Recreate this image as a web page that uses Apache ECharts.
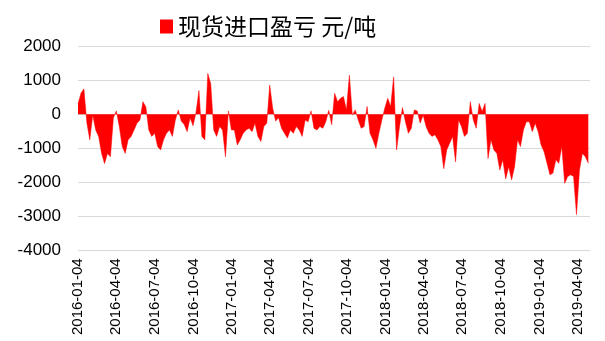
<!DOCTYPE html>
<html>
<head>
<meta charset="utf-8">
<script src="https://cdn.jsdelivr.net/npm/echarts@6/dist/echarts.min.js"></script>
<style>html,body{margin:0;padding:0;background:#fff}#c{width:605px;height:341px}</style>
</head>
<body>
<div id="c"></div>
<script>
var seriesName = '现货进口盈亏 元/吨';
var axisStart = '2016-01-04';
var axisEnd = '2019-05-03';
var quarterLabels = ['2016-01-04','2016-04-04','2016-07-04','2016-10-04','2017-01-04','2017-04-04','2017-07-04','2017-10-04','2018-01-04','2018-04-04','2018-07-04','2018-10-04','2019-01-04','2019-04-04'];
var yTicks = [-4000, -3000, -2000, -1000, 0, 1000, 2000];

var dates = [
'2016-01-04','2016-01-11','2016-01-18','2016-01-25','2016-02-01','2016-02-08','2016-02-15','2016-02-22','2016-02-29','2016-03-07','2016-03-14','2016-03-21','2016-03-28',
'2016-04-04','2016-04-11','2016-04-18','2016-04-25','2016-05-02','2016-05-09','2016-05-16','2016-05-23','2016-05-30','2016-06-06','2016-06-13','2016-06-20','2016-06-27',
'2016-07-04','2016-07-11','2016-07-18','2016-07-25','2016-08-01','2016-08-08','2016-08-15','2016-08-22','2016-08-29','2016-09-05','2016-09-12','2016-09-19','2016-09-26',
'2016-10-03','2016-10-10','2016-10-17','2016-10-24','2016-10-31','2016-11-07','2016-11-14','2016-11-21','2016-11-28','2016-12-05','2016-12-12','2016-12-19','2016-12-26',
'2017-01-02','2017-01-09','2017-01-16','2017-01-23','2017-01-30','2017-02-06','2017-02-13','2017-02-20','2017-02-27','2017-03-06','2017-03-13','2017-03-20','2017-03-27',
'2017-04-03','2017-04-10','2017-04-17','2017-04-24','2017-05-01','2017-05-08','2017-05-15','2017-05-22','2017-05-29','2017-06-05','2017-06-12','2017-06-19','2017-06-26',
'2017-07-03','2017-07-10','2017-07-17','2017-07-24','2017-07-31','2017-08-07','2017-08-14','2017-08-21','2017-08-28','2017-09-04','2017-09-11','2017-09-18','2017-09-25',
'2017-10-02','2017-10-09','2017-10-16','2017-10-23','2017-10-30','2017-11-06','2017-11-13','2017-11-20','2017-11-27','2017-12-04','2017-12-11','2017-12-18','2017-12-25',
'2018-01-01','2018-01-08','2018-01-15','2018-01-22','2018-01-29','2018-02-05','2018-02-12','2018-02-19','2018-02-26','2018-03-05','2018-03-12','2018-03-19','2018-03-26',
'2018-04-02','2018-04-09','2018-04-16','2018-04-23','2018-04-30','2018-05-07','2018-05-14','2018-05-21','2018-05-28','2018-06-04','2018-06-11','2018-06-18','2018-06-25',
'2018-07-02','2018-07-09','2018-07-16','2018-07-23','2018-07-30','2018-08-06','2018-08-13','2018-08-20','2018-08-27','2018-09-03','2018-09-10','2018-09-17','2018-09-24',
'2018-10-01','2018-10-08','2018-10-15','2018-10-22','2018-10-29','2018-11-05','2018-11-12','2018-11-19','2018-11-26','2018-12-03','2018-12-10','2018-12-17','2018-12-24','2018-12-31',
'2019-01-07','2019-01-14','2019-01-21','2019-01-28','2019-02-04','2019-02-11','2019-02-18','2019-02-25','2019-03-04','2019-03-11','2019-03-18','2019-03-25',
'2019-04-01','2019-04-08','2019-04-15','2019-04-22','2019-04-29'
];

var values = [
300,620,750,-250,-750,-20,-460,-650,-1150,-1450,-1150,-1250,-100,
100,-360,-950,-1150,-750,-650,-460,-260,-170,370,220,-460,-650,
-560,-950,-1050,-750,-560,-460,-650,-170,130,-200,-300,-510,-100,
-340,50,700,-650,-750,1200,900,-460,-650,-360,-460,-1250,100,
-460,-460,-900,-750,-560,-460,-410,-510,-260,-650,-800,-360,-260,
860,180,-200,-100,-410,-560,-700,-460,-560,-360,-460,-650,-170,
-220,100,-410,-460,-360,-410,-220,120,-310,620,370,470,520,
130,1150,-20,130,-170,-410,-360,230,-560,-750,-1000,-560,-170,
180,470,230,1100,-1050,-360,200,-220,-560,-410,130,100,-260,
-20,-360,-560,-650,-600,-750,-950,-1600,-1050,-850,-650,-1400,-170,
-360,-650,-560,370,-170,-410,320,80,320,-1300,-750,-1050,-1150,
-1640,-1340,-1900,-1540,-1930,-1540,-750,-950,-460,-220,-220,-510,-260,-510,
-900,-1100,-1440,-1780,-1730,-1340,-1440,-950,-2030,-1830,-1780,-1830,
-2950,-1640,-1150,-1250,-1440
];

function fmt(t){
  var d = new Date(t);
  var m = d.getUTCMonth()+1, dd = d.getUTCDate();
  return d.getUTCFullYear()+'-'+(m<10?'0':'')+m+'-'+(dd<10?'0':'')+dd;
}
function toUTC(s){ var p = s.split('-'); return Date.UTC(+p[0], +p[1]-1, +p[2]); }
var days = [];
for (var t = toUTC(axisStart); t <= toUTC(axisEnd); t += 86400000) days.push(fmt(t));

var seriesData = dates.map(function(d, i){ return [d, values[i]]; });

var chart = echarts.init(document.getElementById('c'), null, {renderer:'canvas'});
chart.setOption({
  animation: false,
  backgroundColor: '#ffffff',
  legend: {
    data: [seriesName],
    left: 155,
    top: 10,
    icon: 'rect',
    itemWidth: 13,
    itemHeight: 14,
    itemGap: 10,
    textStyle: {fontFamily: 'Noto Sans CJK SC', fontSize: 23, color: '#000'}
  },
  grid: {left: 78, right: 15, top: 46.3, bottom: 90.7, containLabel: false},
  xAxis: {
    type: 'category',
    data: days,
    boundaryGap: false,
    axisLine: {show: false},
    axisTick: {show: false},
    splitLine: {show: false},
    axisLabel: {
      rotate: 90,
      margin: 8,
      fontFamily: 'Liberation Sans',
      fontSize: 15,
      color: '#000',
      interval: function(idx, val){ return quarterLabels.indexOf(val) >= 0; }
    }
  },
  yAxis: {
    type: 'value',
    min: yTicks[0],
    max: yTicks[yTicks.length-1],
    interval: 1000,
    axisLine: {show: false},
    axisTick: {show: false},
    axisLabel: {fontFamily: 'Liberation Sans', fontSize: 17, color: '#000', margin: 17,
      formatter: function(v){ return String(v); }},
    splitLine: {lineStyle: {color: '#D9D9D9', width: 1}}
  },
  series: [{
    name: seriesName,
    type: 'line',
    data: seriesData,
    showSymbol: false,
    symbol: 'none',
    itemStyle: {color: '#FF0000'},
    lineStyle: {color: '#FF0000', width: 0.5},
    areaStyle: {color: '#FF0000', opacity: 1},
    z: 1
  }]
});
</script>
</body>
</html>
